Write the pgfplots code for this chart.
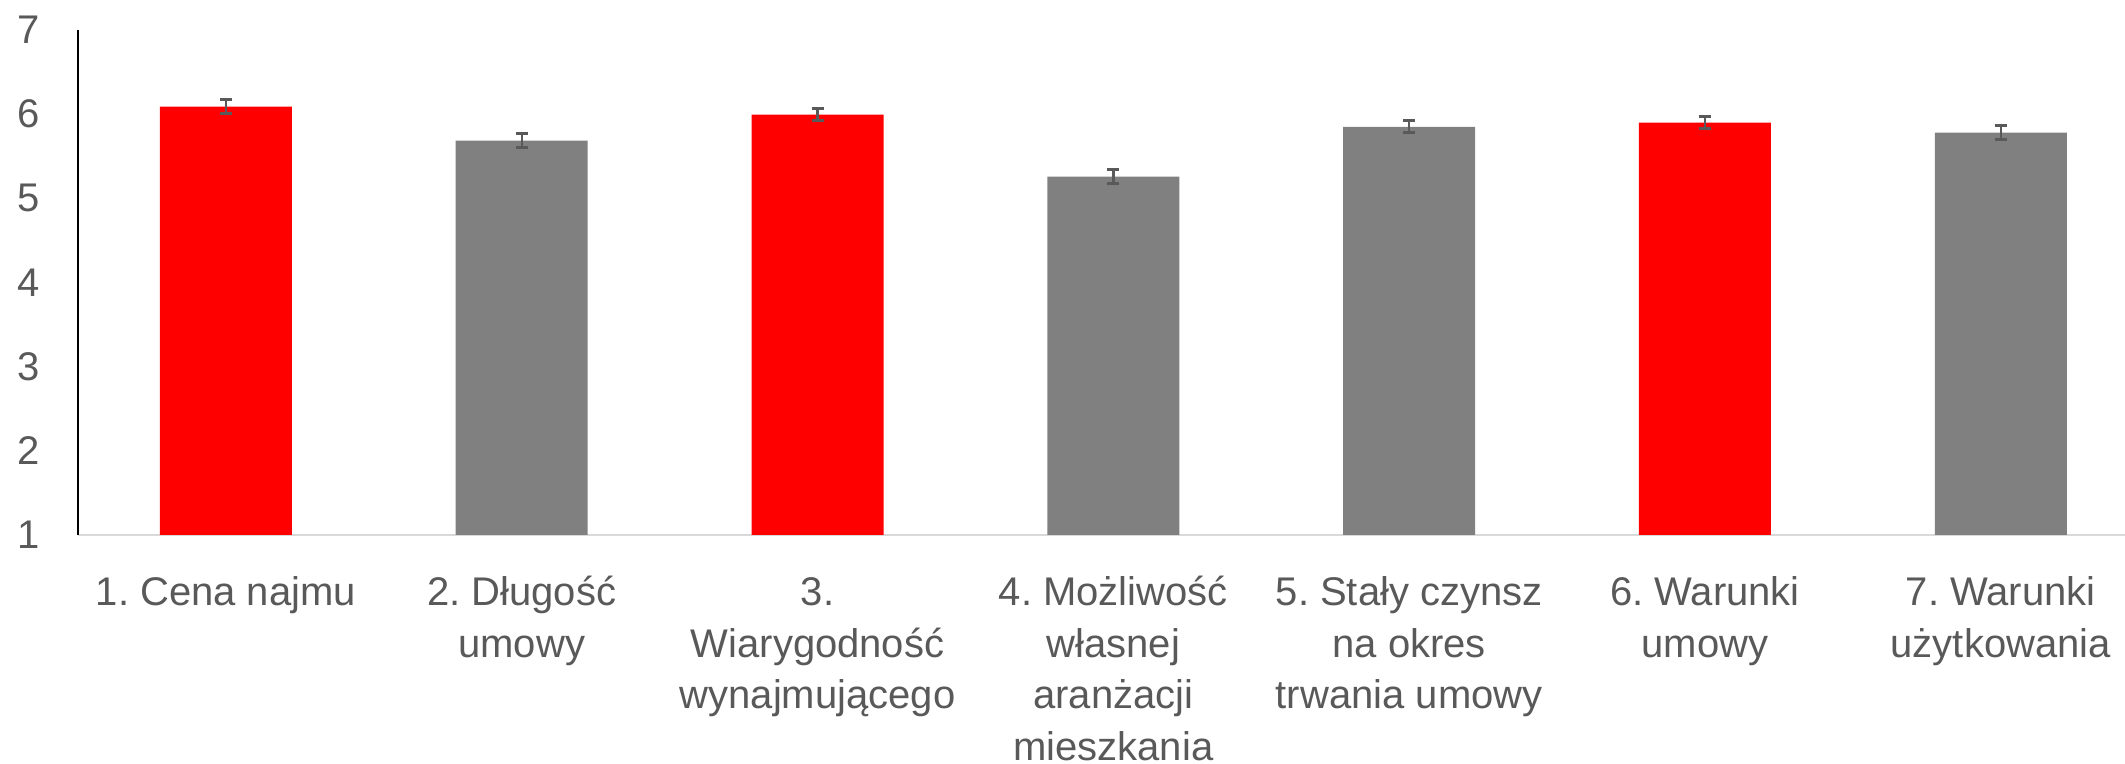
\documentclass[border=0pt]{standalone}
\usepackage{pgfplots}
\pgfplotsset{compat=1.18}
\usepackage{fontspec}
\setmainfont{Liberation Sans}
\frenchspacing
\definecolor{barred}{HTML}{FF0000}
\definecolor{bargray}{HTML}{808080}
\definecolor{txtgray}{HTML}{595959}
\definecolor{axgray}{HTML}{D9D9D9}
\begin{document}
\begin{tikzpicture}
\begin{axis}[
 scale only axis, width=511.8pt, height=126.25pt,
 xmin=-0.5, xmax=6.42, ymin=1, ymax=7,
 ytick={1,2,3,4,5,6,7},
 xtick={0,1,2,3,4,5,6},
 xticklabels={{\strut 1. Cena najmu},{\strut 2. Długość\\umowy},{\strut 3.\\Wiarygodność\\wynajmującego},{\strut 4. Możliwość\\własnej\\aranżacji\\mieszkania},{\strut 5. Stały czynsz\\na okres\\trwania umowy},{\strut 6. Warunki\\umowy},{\strut 7. Warunki\\użytkowania}},
 axis x line=bottom, axis y line=left,
 x axis line style={draw=axgray, line width=0.5pt, -},
 y axis line style={draw=black, line width=0.4pt, -},
 major tick length=0pt,
 tick label style={font=\fontsize{10}{12.9}\selectfont, text=txtgray},
 /pgf/number format/assume math mode=true,
 yticklabel style={anchor=east, xshift=-6pt},
 xticklabel style={anchor=north, align=center, yshift=-5.1pt},
 ybar, bar width=33pt,
 clip=false,
]
\addplot[fill=barred, draw=none, bar shift=0pt,
  error bars/.cd, y dir=both, y explicit,
  error bar style={draw=txtgray, line width=0.6pt},
  error mark options={draw=txtgray, rotate=90, mark size=1.5pt, line width=0.8pt}]
  coordinates {(0,6.09) +- (0,0.085) (2,5.995) +- (0,0.075) (5,5.90) +- (0,0.07)};
\addplot[fill=bargray, draw=none, bar shift=0pt,
  error bars/.cd, y dir=both, y explicit,
  error bar style={draw=txtgray, line width=0.6pt},
  error mark options={draw=txtgray, rotate=90, mark size=1.5pt, line width=0.8pt}]
  coordinates {(1,5.685) +- (0,0.085) (3,5.257) +- (0,0.085) (4,5.85) +- (0,0.072) (6,5.78) +- (0,0.085)};
\coordinate (sw) at (rel axis cs:0,0);
\coordinate (ne) at (rel axis cs:1,1);
\end{axis}
\pgfresetboundingbox
\path[use as bounding box] ([xshift=-19.5pt, yshift=-57.25pt]sw) rectangle ([yshift=7.5pt]ne);
\end{tikzpicture}
\end{document}
